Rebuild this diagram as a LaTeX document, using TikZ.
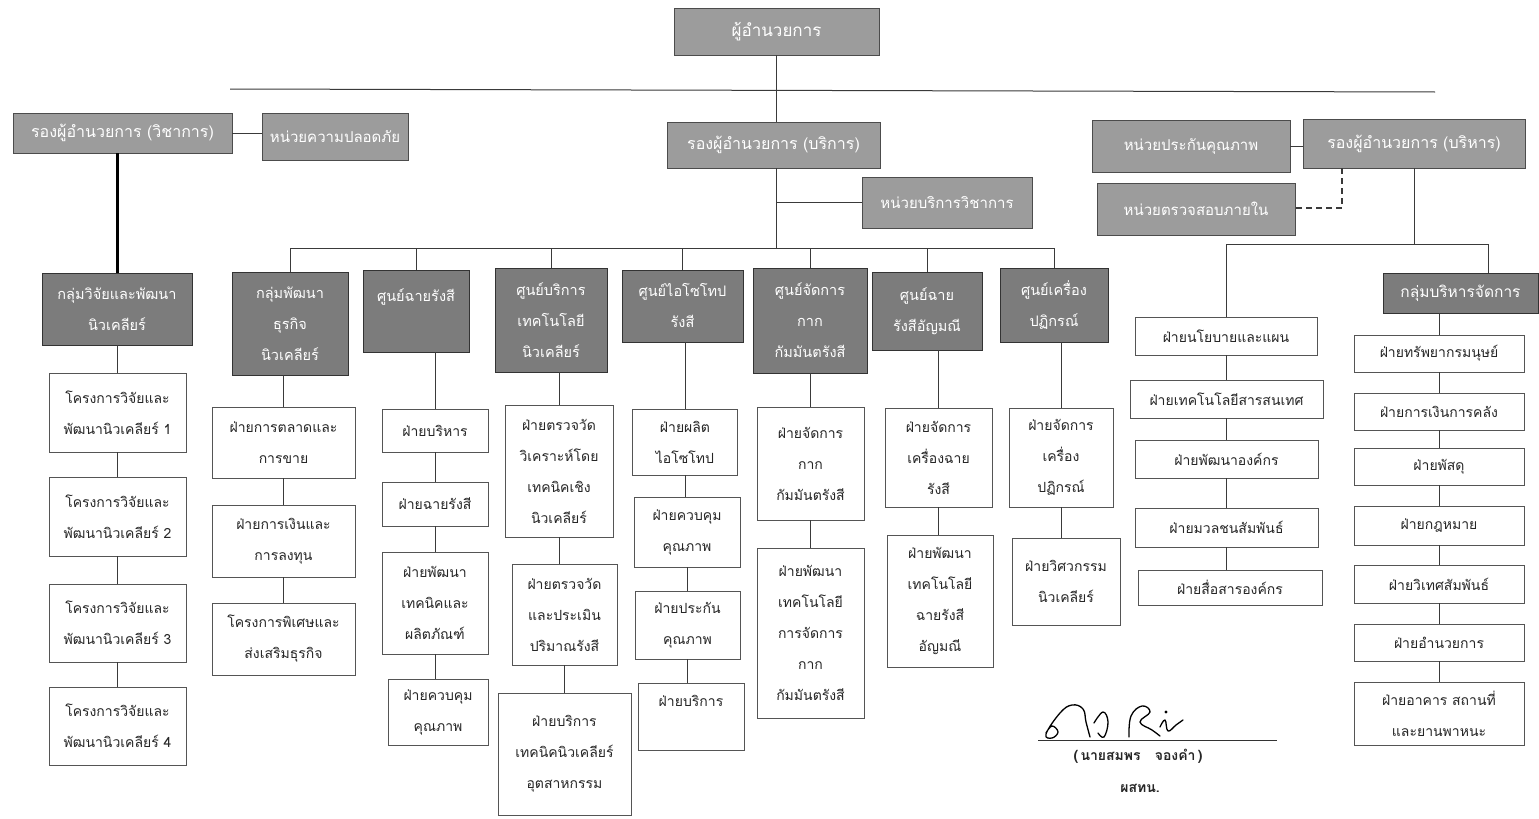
\documentclass[tikz,border=0pt]{standalone}
\usepackage{fontspec}
\newfontfamily\thaifont[Script=Thai]{Loma}
\usetikzlibrary{calc}
\definecolor{gboxc}{HTML}{9C9C9C}
\definecolor{hboxc}{HTML}{7C7C7C}
\definecolor{linec}{HTML}{3A3A3A}
\definecolor{sline}{HTML}{555555}
\begin{document}
\begin{tikzpicture}[x=1pt,y=-1pt,
  box/.style={rectangle, inner sep=1pt, align=center, font=\thaifont\fontsize{14}{31}\selectfont},
  gbox/.style={box, fill=gboxc, draw=gray!60!black, text=white, font=\thaifont\fontsize{15}{31}\selectfont},
  dbox/.style={gbox, font=\thaifont\fontsize{16}{31}\selectfont},
  hbox/.style={box, fill=hboxc, draw=gray!40!black, text=white, font=\thaifont\fontsize{14.5}{31}\selectfont},
  sbox/.style={box, fill=white, draw=sline, text=black!85, line width=0.8pt},
  conn/.style={draw=linec, line width=1pt},
  dashconn/.style={draw=linec, line width=1.3pt, dash pattern=on 6pt off 4pt},
  sig/.style={draw=black, line width=1.3pt, line cap=round, line join=round}]
\fill[white] (0,0) rectangle (1539,819);
\useasboundingbox (0,0) rectangle (1539,819);

% ---- top level ----
\node[dbox, minimum width=205, minimum height=47, font=\thaifont\fontsize{17}{31}\selectfont] (dir) at (776.5,31.5) {ผู้อำนวยการ};
\node[dbox, minimum width=219, minimum height=40] (dac) at (122.5,133) {รองผู้อำนวยการ (วิชาการ)};
\node[gbox, minimum width=146, minimum height=47] (safe) at (335,136.5) {หน่วยความปลอดภัย};
\node[dbox, minimum width=213, minimum height=46] (dsv) at (773.5,145) {รองผู้อำนวยการ (บริการ)};
\node[gbox, minimum width=170, minimum height=51] (acs) at (947,202.5) {หน่วยบริการวิชาการ};
\node[gbox, minimum width=198, minimum height=52] (qa) at (1191,146) {หน่วยประกันคุณภาพ};
\node[dbox, minimum width=222, minimum height=49] (dad) at (1414,143.5) {รองผู้อำนวยการ (บริหาร)};
\node[gbox, minimum width=198, minimum height=52] (aud) at (1196,209) {หน่วยตรวจสอบภายใน};

% ---- research ----
\node[hbox, minimum width=150, minimum height=72] (rg) at (117,309) {กลุ่มวิจัยและพัฒนา\\นิวเคลียร์};
\node[sbox, minimum width=137, minimum height=79] (rp1) at (117.5,412.5) {โครงการวิจัยและ\\พัฒนานิวเคลียร์ 1};
\node[sbox, minimum width=137, minimum height=79] (rp2) at (117.5,516.5) {โครงการวิจัยและ\\พัฒนานิวเคลียร์ 2};
\node[sbox, minimum width=137, minimum height=78] (rp3) at (117.5,623) {โครงการวิจัยและ\\พัฒนานิวเคลียร์ 3};
\node[sbox, minimum width=137, minimum height=78] (rp4) at (117.5,726) {โครงการวิจัยและ\\พัฒนานิวเคลียร์ 4};

% ---- service columns ----
\node[hbox, minimum width=116, minimum height=103] (c1) at (290,323.5) {กลุ่มพัฒนา\\ธุรกิจ\\นิวเคลียร์};
\node[sbox, minimum width=143, minimum height=71] (c1a) at (283.5,442.5) {ฝ่ายการตลาดและ\\การขาย};
\node[sbox, minimum width=143, minimum height=72] (c1b) at (283.5,541) {ฝ่ายการเงินและ\\การลงทุน};
\node[sbox, minimum width=143, minimum height=72] (c1c) at (283.5,639) {โครงการพิเศษและ\\ส่งเสริมธุรกิจ};

\node[hbox, minimum width=106, minimum height=82] (c2) at (416,311) {ศูนย์ฉายรังสี\\\phantom{ก}};
\node[sbox, minimum width=106, minimum height=43] (c2a) at (435,430.5) {ฝ่ายบริหาร};
\node[sbox, minimum width=106, minimum height=44] (c2b) at (435,504) {ฝ่ายฉายรังสี};
\node[sbox, minimum width=106, minimum height=102] (c2c) at (435,603) {ฝ่ายพัฒนา\\เทคนิคและ\\ผลิตภัณฑ์};
\node[sbox, minimum width=100, minimum height=66] (c2d) at (438,712) {ฝ่ายควบคุม\\คุณภาพ};

\node[hbox, minimum width=112, minimum height=104] (c3) at (551,320) {ศูนย์บริการ\\เทคโนโลยี\\นิวเคลียร์};
\node[sbox, minimum width=108, minimum height=132] (c3a) at (559,471) {ฝ่ายตรวจวัด\\วิเคราะห์โดย\\เทคนิคเชิง\\นิวเคลียร์};
\node[sbox, minimum width=105, minimum height=101] (c3b) at (564.5,614.5) {ฝ่ายตรวจวัด\\และประเมิน\\ปริมาณรังสี};
\node[sbox, minimum width=133, minimum height=122] (c3c) at (564.5,754) {ฝ่ายบริการ\\เทคนิคนิวเคลียร์\\อุตสาหกรรม};

\node[hbox, minimum width=121, minimum height=72] (c4) at (682.5,306) {ศูนย์ไอโซโทป\\รังสี};
\node[sbox, minimum width=105, minimum height=66] (c4a) at (685,442) {ฝ่ายผลิต\\ไอโซโทป};
\node[sbox, minimum width=106, minimum height=70] (c4b) at (687,532) {ฝ่ายควบคุม\\คุณภาพ};
\node[sbox, minimum width=105, minimum height=68] (c4c) at (687.5,625) {ฝ่ายประกัน\\คุณภาพ};
\node[sbox, minimum width=106, minimum height=67] (c4d) at (691,716.5) {ฝ่ายบริการ\\\phantom{ก}};

\node[hbox, minimum width=114, minimum height=105] (c5) at (810,320.5) {ศูนย์จัดการ\\กาก\\กัมมันตรังสี};
\node[sbox, minimum width=107, minimum height=113] (c5a) at (810.5,463.5) {ฝ่ายจัดการ\\กาก\\กัมมันตรังสี};
\node[sbox, minimum width=107, minimum height=170] (c5b) at (810.5,633) {ฝ่ายพัฒนา\\เทคโนโลยี\\การจัดการ\\กาก\\กัมมันตรังสี};

\node[hbox, minimum width=110, minimum height=78] (c6) at (927,311) {ศูนย์ฉาย\\รังสีอัญมณี};
\node[sbox, minimum width=107, minimum height=99] (c6a) at (938.5,457.5) {ฝ่ายจัดการ\\เครื่องฉาย\\รังสี};
\node[sbox, minimum width=106, minimum height=132] (c6b) at (940,601) {ฝ่ายพัฒนา\\เทคโนโลยี\\ฉายรังสี\\อัญมณี};

\node[hbox, minimum width=108, minimum height=74] (c7) at (1054,305) {ศูนย์เครื่อง\\ปฏิกรณ์};
\node[sbox, minimum width=104, minimum height=99] (c7a) at (1061,457.5) {ฝ่ายจัดการ\\เครื่อง\\ปฏิกรณ์};
\node[sbox, minimum width=108, minimum height=87] (c7b) at (1066,581.5) {ฝ่ายวิศวกรรม\\นิวเคลียร์};

% ---- administration ----
\node[sbox, minimum width=182, minimum height=38] (a1) at (1226,336) {ฝ่ายนโยบายและแผน};
\node[sbox, minimum width=193, minimum height=38] (a2) at (1226.5,399) {ฝ่ายเทคโนโลยีสารสนเทศ};
\node[sbox, minimum width=183, minimum height=38] (a3) at (1226.5,459) {ฝ่ายพัฒนาองค์กร};
\node[sbox, minimum width=183, minimum height=39] (a4) at (1226.5,527.5) {ฝ่ายมวลชนสัมพันธ์};
\node[sbox, minimum width=184, minimum height=35] (a5) at (1230,587.5) {ฝ่ายสื่อสารองค์กร};

\node[hbox, minimum width=155, minimum height=40, font=\thaifont\fontsize{15.5}{31}\selectfont] (bg) at (1460.5,293) {กลุ่มบริหารจัดการ};
\node[sbox, minimum width=170, minimum height=37] (b1) at (1439,353.5) {ฝ่ายทรัพยากรมนุษย์};
\node[sbox, minimum width=170, minimum height=37] (b2) at (1439,411.5) {ฝ่ายการเงินการคลัง};
\node[sbox, minimum width=170, minimum height=37] (b3) at (1439,466.5) {ฝ่ายพัสดุ};
\node[sbox, minimum width=170, minimum height=39] (b4) at (1439,525.5) {ฝ่ายกฎหมาย};
\node[sbox, minimum width=170, minimum height=38] (b5) at (1439,584) {ฝ่ายวิเทศสัมพันธ์};
\node[sbox, minimum width=170, minimum height=37] (b6) at (1439,642.5) {ฝ่ายอำนวยการ};
\node[sbox, minimum width=170, minimum height=63] (b7) at (1439,713.5) {ฝ่ายอาคาร สถานที่\\และยานพาหนะ};

% ---- connectors ----
\coordinate (hl) at (230,89);
\coordinate (hr) at (1435,92);
\draw[conn] (hl) -- (hr);
\draw[conn] (dir.south) -- (dir.south |- dsv.north);
\draw[conn] (dac.east) -- (safe.west |- dac.east);
\draw[line width=3pt, black] (dac.south -| rg.north) -- (rg.north);
\draw[conn] (rg.south) -- (rg.south |- rp1.north);
\draw[conn] (rp1.south) -- (rp1.south |- rp2.north);
\draw[conn] (rp2.south) -- (rp2.south |- rp3.north);
\draw[conn] (rp3.south) -- (rp3.south |- rp4.north);

\coordinate (sb) at (0,248);
\draw[conn] (dir.south |- dsv.south) -- (dir.south |- sb);
\draw[conn] (dir.south |- acs.west) -- (acs.west);
\draw[conn] (c1.north |- sb) -- (c7.north |- sb);
\foreach \c in {c1,c2,c3,c4,c5,c6,c7} { \draw[conn] (\c.north |- sb) -- (\c.north); }

\draw[conn] (c1a.north |- c1.south) -- (c1a.north);
\draw[conn] (c1a.south) -- (c1a.south |- c1b.north);
\draw[conn] (c1b.south) -- (c1b.south |- c1c.north);
\draw[conn] (c2a.north |- c2.south) -- (c2a.north);
\draw[conn] (c2a.south) -- (c2a.south |- c2b.north);
\draw[conn] (c2b.south) -- (c2b.south |- c2c.north);
\draw[conn] (c2c.south) -- (c2c.south |- c2d.north);
\draw[conn] (c3a.north |- c3.south) -- (c3a.north);
\draw[conn] (c3a.south) -- (c3a.south |- c3b.north);
\draw[conn] (c3b.south) -- (c3b.south |- c3c.north);
\draw[conn] (c4a.north |- c4.south) -- (c4a.north);
\draw[conn] (c4a.south) -- (c4a.south |- c4b.north);
\draw[conn] (c4b.south) -- (c4b.south |- c4c.north);
\draw[conn] (c4c.south) -- (c4c.south |- c4d.north);
\draw[conn] (c5a.north |- c5.south) -- (c5a.north);
\draw[conn] (c5a.south) -- (c5a.south |- c5b.north);
\draw[conn] (c6a.north |- c6.south) -- (c6a.north);
\draw[conn] (c6a.south) -- (c6a.south |- c6b.north);
\draw[conn] (c7a.north |- c7.south) -- (c7a.north);
\draw[conn] (c7a.south) -- (c7a.south |- c7b.north);

\coordinate (ab) at (0,244);
\coordinate (abR) at (1488,244);
\draw[conn] (qa.east) -- (dad.west |- qa.east);
\draw[conn] (dad.south) -- (dad.south |- ab);
\draw[conn] (a1.north |- ab) -- (abR);
\draw[conn] (a1.north |- ab) -- (a1.north);
\draw[conn] (abR) -- (abR |- bg.north);
\draw[conn] (a1.south) -- (a1.south |- a2.north);
\draw[conn] (a2.south) -- (a2.south |- a3.north);
\draw[conn] (a3.south) -- (a3.south |- a4.north);
\draw[conn] (a4.south) -- (a4.south |- a5.north);
\draw[conn] (b1.north |- bg.south) -- (b1.north);
\draw[conn] (b1.south) -- (b2.north);
\draw[conn] (b2.south) -- (b3.north);
\draw[conn] (b3.south) -- (b4.north);
\draw[conn] (b4.south) -- (b5.north);
\draw[conn] (b5.south) -- (b6.north);
\draw[conn] (b6.south) -- (b7.north);
\coordinate (dk) at (1342,208);
\draw[dashconn] (dad.south -| dk) -- (dk) -- (aud.east |- dk);

% ---- signature ----
\coordinate (sg1) at (1038,740);
\coordinate (sg2) at (1277,740);
\draw[line width=1pt, black!80] (sg1) -- (sg2);
\draw[sig] plot[smooth, tension=0.7] coordinates {(1046,733) (1052,726) (1058,732) (1052,738) (1046,734) (1060,713) (1072,705) (1083,709) (1086,722) (1090,737)};
\draw[sig] plot[smooth, tension=0.7] coordinates {(1094,723) (1103,712) (1108,722) (1104,737) (1098,733)};
\draw[sig] plot[smooth, tension=0.7] coordinates {(1129,737) (1131,716) (1142,706) (1150,712) (1140,722) (1152,730) (1160,736)};
\draw[sig] plot[smooth, tension=0.7] coordinates {(1160,727) (1165,720) (1168,731) (1176,725) (1183,720)};
\fill[black] (1166,712) circle (1.6);
\node[font=\thaifont\bfseries\fontsize{14}{16}\selectfont, text=black!85] (sname) at (1138,756) {(\,นายสมพร\ \ \ จองคำ\,)};
\node[font=\thaifont\bfseries\fontsize{14}{16}\selectfont, text=black!85] (spos) at (1140,788) {ผสทน.};
\end{tikzpicture}
\end{document}
